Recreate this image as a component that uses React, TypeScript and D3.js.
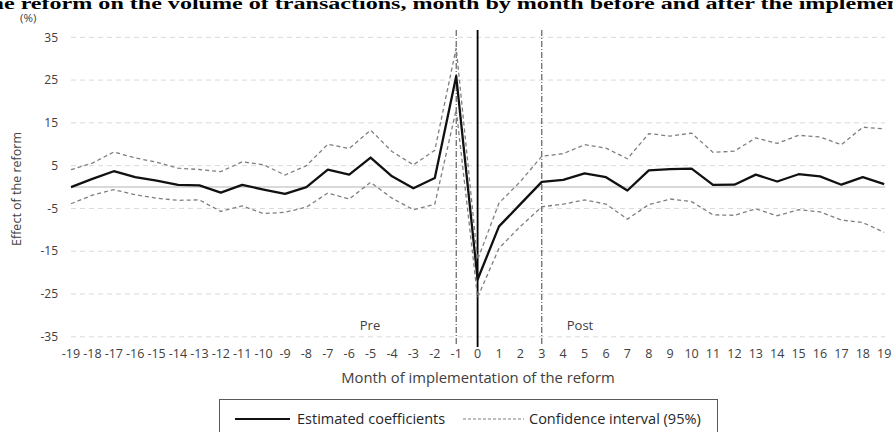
import React from "react";
import * as d3 from "d3";

const months: number[] = d3.range(-19, 20);
const tickLabels: string[] = months.map((m) => String(m));
const yTicks: number[] = [35, 25, 15, 5, -5, -15, -25, -35];

const estimated: number[] = [
  0.0, 1.9, 3.7, 2.3, 1.5, 0.5, 0.4, -1.3, 0.5, -0.6, -1.6, 0.0, 4.05, 2.9, 6.9, 2.5, -0.3, 2.1, 25.9,
  -21.6, -9.2, -4.0, 1.2, 1.7, 3.2, 2.3, -0.8, 3.9, 4.2, 4.3, 0.5, 0.55, 2.9, 1.3, 3.0, 2.5, 0.55, 2.3, 0.7,
];
const upperCI: number[] = [
  4.05, 5.6, 8.2, 6.8, 5.8, 4.4, 4.1, 3.6, 5.9, 5.2, 2.8, 5.0, 10.0, 9.0, 13.3, 8.3, 5.2, 8.6, 32.5,
  -17.0, -3.75, 1.3, 7.2, 7.8, 9.9, 9.1, 6.6, 12.5, 11.9, 12.6, 8.1, 8.4, 11.5, 10.2, 12.1, 11.7, 9.9, 14.0, 13.6,
];
const lowerCI: number[] = [
  -3.9, -1.9, -0.6, -1.8, -2.6, -3.1, -3.0, -5.7, -4.4, -6.2, -5.9, -4.7, -1.4, -2.8, 1.1, -2.6, -5.3, -4.0, 18.1,
  -25.8, -14.3, -9.2, -4.6, -4.0, -3.0, -4.0, -7.5, -4.1, -2.8, -3.4, -6.5, -6.6, -5.1, -6.7, -5.3, -5.8, -7.7, -8.3, -10.6,
];

const titleText =
  "Effect of the reform on the volume of transactions, month by month before and after the implementation of the reform";
const xTitle = "Month of implementation of the reform";
const yTitle = "Effect of the reform";
const legendLabels = ["Estimated coefficients", "Confidence interval (95%)"];

const W = 893;
const H = 432;
const FONT = "'Open Sans', sans-serif";

export default function App() {
  const x = d3.scaleLinear().domain([-19, 19]).range([71, 884.2]);
  const y = d3.scaleLinear().domain([-35, 35]).range([336.8, 37.3]);
  const line = d3
    .line<number>()
    .x((_, i) => x(months[i]))
    .y((d) => y(d));

  const gridX0 = x(-19);
  const gridX1 = x(19) + 1;
  const labelColor = "#404040";

  return (
    <svg
      width={W}
      height={H}
      style={{ position: "absolute", left: 0, top: 0, background: "#fff" }}
      fontFamily={FONT}
    >
      <rect x={0} y={0} width={W} height={H} fill="#fff" />
      <g transform="translate(-111,9) scale(1.46,1)">
        <text
          x={0}
          y={0}
          fontFamily="'Liberation Serif', 'Times New Roman', serif"
          fontWeight="bold"
          fontSize={16.5}
          fill="#000"
        >
          {titleText}
        </text>
      </g>
      <text x={20} y={21.5} fontSize={11.5} fill={labelColor}>
        (%)
      </text>

      {/* gridlines */}
      {yTicks.map((t) => (
        <line
          key={t}
          x1={gridX0}
          x2={gridX1}
          y1={y(t)}
          y2={y(t)}
          stroke="#d9d9d9"
          strokeWidth={1}
          strokeDasharray="5,4"
        />
      ))}
      <line x1={gridX0} x2={gridX1} y1={y(0)} y2={y(0)} stroke="#d9d9d9" strokeWidth={2} />

      {/* y tick labels */}
      {yTicks.map((t) => (
        <text key={t} x={58} y={y(t)} dy="0.35em" textAnchor="end" fontSize={12} fill={labelColor}>
          {t}
        </text>
      ))}

      {/* x tick labels */}
      {months.map((m, i) => (
        <text key={m} x={x(m)} y={357.5} textAnchor="middle" fontSize={12.5} fill={labelColor}>
          {tickLabels[i]}
        </text>
      ))}

      {/* vertical reference lines */}
      <line x1={x(-1)} x2={x(-1)} y1={30} y2={345} stroke="#404040" strokeWidth={1} strokeDasharray="6,2,1,2" />
      <line x1={x(3)} x2={x(3)} y1={30} y2={345} stroke="#404040" strokeWidth={1} strokeDasharray="6,2,1,2" />
      <line x1={x(0)} x2={x(0)} y1={30} y2={347} stroke="#000" strokeWidth={1.8} />

      {/* CI lines */}
      <path d={line(upperCI) || ""} fill="none" stroke="#7f7f7f" strokeWidth={1.3} strokeDasharray="4,3" />
      <path d={line(lowerCI) || ""} fill="none" stroke="#7f7f7f" strokeWidth={1.3} strokeDasharray="4,3" />
      <path d={line(estimated) || ""} fill="none" stroke="#111" strokeWidth={2.3} strokeLinejoin="round" />

      {/* Pre / Post */}
      <text x={370} y={329.5} textAnchor="middle" fontSize={13} fill={labelColor}>
        Pre
      </text>
      <text x={580} y={329.5} textAnchor="middle" fontSize={13} fill={labelColor}>
        Post
      </text>

      {/* axis titles */}
      <text x={478} y={383} textAnchor="middle" fontSize={14.8} fill={labelColor}>
        {xTitle}
      </text>
      <text
        transform={`translate(21,189) rotate(-90)`}
        textAnchor="middle"
        fontSize={12.5}
        fill={labelColor}
      >
        {yTitle}
      </text>

      {/* legend */}
      <rect x={219.5} y={399.5} width={498} height={50} fill="#fff" stroke="#595959" strokeWidth={1} />
      <line x1={235} x2={290} y1={419} y2={419} stroke="#111" strokeWidth={2} />
      <text x={297} y={419} dy="0.35em" fontSize={14.5} fill="#262626">
        {legendLabels[0]}
      </text>
      <line x1={463} x2={524} y1={419} y2={419} stroke="#7f7f7f" strokeWidth={1} strokeDasharray="3,2" />
      <text x={529} y={419} dy="0.35em" fontSize={14.5} fill="#262626">
        {legendLabels[1]}
      </text>
    </svg>
  );
}
